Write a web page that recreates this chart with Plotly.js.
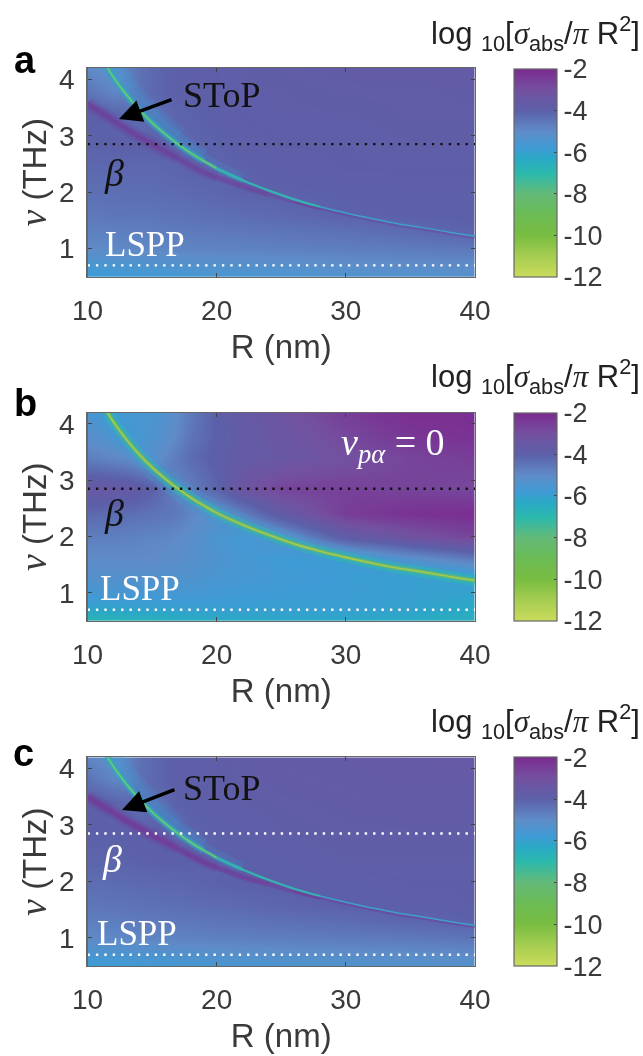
<!DOCTYPE html>
<html><head><meta charset="utf-8">
<script src="https://cdn.plot.ly/plotly-3.0.1.min.js"></script>
<style>html,body{margin:0;padding:0;background:#fff}#g{width:643px;height:1056px;filter:blur(0.45px)}</style>
</head><body><div id="g"></div>
<script>
const radii=[10,11,12,13,14,15,16,17,18,20,22,25,30,35,40];
const freqs=[0.5,0.7,1,1.3,1.6,2,2.4,2.85,3.4,3.8,4.2];
const zA=[
[-5.9,-5.9,-5.85,-5.8,-5.8,-5.75,-5.7,-5.7,-5.7,-5.6,-5.6,-5.5,-5.4,-5.4,-5.3],
[-5.6,-5.55,-5.5,-5.5,-5.45,-5.4,-5.4,-5.35,-5.3,-5.3,-5.25,-5.2,-5.1,-5.05,-5],
[-5,-5,-4.95,-4.95,-4.95,-4.9,-4.9,-4.85,-4.85,-4.8,-4.8,-4.75,-4.7,-4.65,-4.55],
[-4.75,-4.75,-4.75,-4.7,-4.7,-4.7,-4.65,-4.65,-4.6,-4.6,-4.55,-4.5,-4.4,-4.25,-4.1],
[-4.55,-4.55,-4.5,-4.5,-4.5,-4.5,-4.45,-4.45,-4.4,-4.35,-4.3,-4.2,-4.05,-4,-3.95],
[-4.35,-4.35,-4.35,-4.3,-4.3,-4.3,-4.25,-4.25,-4.2,-4.15,-4.05,-4.05,-4,-3.95,-3.95],
[-4.2,-4.2,-4.2,-4.2,-4.2,-4.2,-4.15,-4.1,-4.05,-4.1,-4.05,-3.95,-3.9,-3.9,-3.9],
[-4.05,-4.05,-4,-4,-4,-4,-4.05,-4.2,-4.15,-4.05,-3.95,-3.9,-3.9,-3.85,-3.85],
[-3.95,-4,-4.15,-4.25,-4.35,-4.35,-4.25,-4.1,-4.05,-3.95,-3.9,-3.85,-3.85,-3.8,-3.8],
[-4.5,-4.7,-4.9,-4.8,-4.4,-4.2,-4.05,-4,-3.95,-3.9,-3.85,-3.85,-3.8,-3.8,-3.75],
[-5,-5.1,-5.2,-4.8,-4.4,-4.2,-4.05,-4,-3.95,-3.9,-3.85,-3.8,-3.75,-3.7,-3.65]];
const zB=[
[-6.8,-6.8,-6.8,-6.75,-6.7,-6.65,-6.6,-6.55,-6.5,-6.4,-6.35,-6.3,-6.3,-6.4,-6.6],
[-6.2,-6.2,-6.15,-6.1,-6.1,-6.05,-6.05,-6,-6,-5.95,-5.95,-5.95,-5.95,-6.05,-6.35],
[-5.6,-5.6,-5.6,-5.6,-5.6,-5.6,-5.6,-5.6,-5.6,-5.7,-5.75,-5.8,-5.85,-5.95,-6.1],
[-5.2,-5.2,-5.2,-5.2,-5.2,-5.2,-5.25,-5.3,-5.35,-5.5,-5.6,-5.7,-5.85,-6,-6],
[-5,-5,-5,-5,-5,-5,-5.05,-5.1,-5.2,-5.4,-5.6,-5.8,-5.9,-5.2,-4.6],
[-4.7,-4.7,-4.7,-4.75,-4.8,-4.85,-4.9,-5,-5.1,-5.5,-5.7,-5.3,-3.8,-3.2,-2.7],
[-4.2,-4.25,-4.3,-4.35,-4.4,-4.45,-4.5,-4.6,-4.9,-5.2,-4.7,-3.7,-2.5,-2.2,-2.1],
[-3.5,-3.5,-3.55,-3.6,-3.75,-4,-4.4,-4.8,-4.7,-4.1,-3.3,-2.7,-2.6,-2.7,-2.8],
[-4.7,-4.8,-4.9,-5,-5.2,-5.2,-4.9,-4.6,-4.3,-3.9,-3.7,-3.5,-3.1,-2.7,-2.5],
[-5.2,-5.3,-5.5,-5.6,-5.6,-5.4,-5.2,-4.9,-4.5,-4,-3.7,-3.4,-2.8,-2.3,-2.2],
[-5.5,-5.7,-5.8,-5.7,-5.6,-5.5,-5.3,-5,-4.6,-4,-3.6,-3.3,-2.5,-2.1,-2.1]];
const zC=[
[-5.9,-5.85,-5.85,-5.8,-5.75,-5.75,-5.7,-5.7,-5.65,-5.6,-5.55,-5.5,-5.4,-5.35,-5.3],
[-5.55,-5.5,-5.5,-5.45,-5.4,-5.4,-5.35,-5.35,-5.3,-5.25,-5.2,-5.15,-5.1,-5.05,-5],
[-5,-4.95,-4.95,-4.9,-4.9,-4.85,-4.85,-4.8,-4.8,-4.75,-4.75,-4.7,-4.65,-4.6,-4.5],
[-4.7,-4.7,-4.7,-4.65,-4.65,-4.6,-4.6,-4.55,-4.55,-4.5,-4.45,-4.4,-4.3,-4.15,-4.05],
[-4.5,-4.5,-4.45,-4.45,-4.4,-4.4,-4.35,-4.35,-4.3,-4.25,-4.2,-4.1,-4,-3.95,-3.9],
[-4.3,-4.3,-4.25,-4.25,-4.2,-4.2,-4.15,-4.15,-4.1,-4.05,-4,-4,-3.95,-3.9,-3.9],
[-4.1,-4.1,-4.1,-4.05,-4.05,-4,-4,-4,-4,-4.05,-4,-3.95,-3.85,-3.85,-3.85],
[-4,-4,-4,-3.95,-3.95,-3.95,-4,-4.2,-4.1,-4,-3.95,-3.85,-3.8,-3.8,-3.8],
[-3.9,-3.95,-4.1,-4.2,-4.35,-4.3,-4.2,-4.05,-4,-3.9,-3.85,-3.8,-3.75,-3.7,-3.7],
[-4.4,-4.65,-4.85,-4.8,-4.4,-4.2,-4.05,-3.95,-3.9,-3.85,-3.8,-3.75,-3.7,-3.65,-3.65],
[-4.9,-5,-5.2,-4.8,-4.4,-4.2,-4.05,-3.95,-3.9,-3.85,-3.75,-3.7,-3.65,-3.6,-3.55]];
const stopR=[11.5,12,13,14,15,16,17,18,19,20,22,24,26,28,30,32,34,36,38,40];
const stopNu=[4.22,4.04,3.73,3.46,3.23,3.03,2.85,2.69,2.55,2.42,2.21,2.03,1.87,1.74,1.63,1.53,1.44,1.37,1.29,1.22];
const haloR=[12,13,14,15,16,17,18,19,20,22,24];
const haloNu=[4.25,3.9,3.62,3.38,3.17,2.97,2.8,2.64,2.5,2.27,2.06];
const betaR=[10,11,12,13,14,15,16,17,18,19,20,22,24,26,28,30,32,34,36,38,40];
const betaA=[3.57,3.42,3.27,3.12,2.98,2.85,2.72,2.6,2.47,2.35,2.26,2.1,1.96,1.83,1.71,1.6,1.5,1.41,1.34,1.26,1.19];
const betaC=[3.5,3.36,3.22,3.08,2.95,2.82,2.7,2.58,2.46,2.34,2.25,2.08,1.95,1.82,1.71,1.6,1.5,1.41,1.34,1.26,1.19];
const bandLevelBeta=[2.85,2.85];
const bandLevelLspp=[0.7,0.7];
const bandSpan=[10,40];
const xTicks=[10,20,30,40];
const yTicks=[1,2,3,4];
const barTicks=[-2,-4,-6,-8,-10,-12];
const barTickText=['-2','-4','-6','-8','-10','-12'];
const palette=[[0,'#cbdb5b'],[0.1,'#a5cd51'],[0.2,'#78bd41'],[0.3,'#6cbb55'],[0.4,'#63ba78'],[0.5,'#2bb9ad'],[0.57,'#2ba9c6'],[0.62,'#3f9bd5'],[0.7,'#5f8cc8'],[0.8,'#5c60a9'],[0.9,'#74509f'],[1,'#7b2b90']];

const W=643,H=1056,L=87.5,Rt=475,BL=513.5,BR=556;
const panels=[
 {t:68,b:276.7,bt:69,z:zA,kind:'a',dot:'#111',lab:'a',lx:25,ly:60},
 {t:412.7,b:621,bt:412.7,z:zB,kind:'b',dot:'#111',lab:'b',lx:25,ly:403},
 {t:757.3,b:966,bt:757.3,z:zC,kind:'c',dot:'#fff',lab:'c',lx:23,ly:753}];
const F="'Liberation Sans',Arial,sans-serif",S="'Liberation Serif',serif",ink='#3a3a3a';
const data=[],ann=[],layout={width:W,height:H,margin:{l:0,r:0,t:0,b:0,autoexpand:false},paper_bgcolor:'#fff',plot_bgcolor:'#fff',showlegend:false,font:{family:F,color:ink}};
function line(xa,ya,x,y,width,color,extra){data.push({type:'scatter',mode:'lines',x,y,xaxis:xa,yaxis:ya,hoverinfo:'skip',showlegend:false,line:Object.assign({width,color,shape:'spline'},extra||{})});}
function txt(x,y,text,size,color,family,fontExtra){ann.push({xref:'paper',yref:'paper',x:x/W,y:1-y/H,text,showarrow:false,xanchor:'center',yanchor:'middle',font:Object.assign({size,color,family},fontExtra||{})});}
panels.forEach((p,i)=>{
 const n=i===0?'':String(i+1),xa='x'+n,ya='y'+n;
 data.push({type:'heatmap',x:radii,y:freqs,z:p.z,xaxis:xa,yaxis:ya,zmin:-12,zmax:-2,zsmooth:'best',colorscale:palette,hoverinfo:'skip',
  colorbar:{x:BL/W,xanchor:'left',y:1-p.bt/H,yanchor:'top',len:p.b-p.bt,lenmode:'pixels',thickness:BR-BL,thicknessmode:'pixels',xpad:0,ypad:0,outlinecolor:'#666',outlinewidth:1.2,ticks:'inside',ticklen:3,tickcolor:'#444',tickmode:'array',tickvals:barTicks,ticktext:barTickText,tickfont:{size:27,family:F,color:ink},ticklabelstandoff:3}});
 layout['xaxis'+n]={domain:[L/W,Rt/W],range:[10,40],anchor:ya,tickmode:'array',tickvals:xTicks,ticks:'inside',ticklen:4,tickcolor:'#444',showline:true,mirror:'ticks',linecolor:'#666',linewidth:1.2,showgrid:false,zeroline:false,tickfont:{size:28,family:F,color:ink},ticklabelstandoff:8,automargin:true,
  title:{text:'R (nm)',standoff:10,font:{size:33,family:F,color:ink}}};
 layout['yaxis'+n]={domain:[1-p.b/H,1-p.t/H],range:[0.5,4.2],anchor:xa,tickmode:'array',tickvals:yTicks,ticks:'inside',ticklen:4,tickcolor:'#444',showline:true,mirror:'ticks',linecolor:'#666',linewidth:1.2,showgrid:false,zeroline:false,tickfont:{size:28,family:F,color:ink},ticklabelstandoff:6,automargin:true,
  title:{text:"<span style=\"font-family:'Liberation Serif';font-style:italic;font-size:38px\">ν</span> (THz)",standoff:2,font:{size:33,family:F,color:ink}}};
 if(p.kind==='b'){
  line(xa,ya,stopR,stopNu,22,'rgba(63,155,213,0.28)');
  line(xa,ya,stopR,stopNu,11,'rgba(43,185,173,0.5)');
  line(xa,ya,stopR,stopNu,4.5,'rgba(105,190,95,0.7)');
  line(xa,ya,stopR,stopNu,1.6,'#a9c94c');
 } else {
  const bn=p.kind==='a'?betaA:betaC, strong=p.kind==='a'?1:1.3;
  const purple=(a)=>'rgba(123,43,144,'+(a*strong)+')';
  line(xa,ya,betaR.slice(0,8),bn.slice(0,8),14,purple(0.1));
  line(xa,ya,betaR.slice(0,11),bn.slice(0,11),10,purple(0.12));
  line(xa,ya,betaR.slice(0,13),bn.slice(0,13),6.5,purple(0.16));
  line(xa,ya,betaR.slice(0,15),bn.slice(0,15),4,purple(0.28));
  line(xa,ya,betaR.slice(13),bn.slice(13),2.5,purple(0.28));
  line(xa,ya,haloR.slice(0,6),haloNu.slice(0,6),22,'rgba(63,155,213,0.16)');
  line(xa,ya,haloR.slice(0,8),haloNu.slice(0,8),13,'rgba(63,155,213,0.22)');
  line(xa,ya,haloR.slice(3,10),haloNu.slice(3,10),7,'rgba(63,155,213,0.18)');
  line(xa,ya,stopR.slice(0,9),stopNu.slice(0,9),7,'rgba(43,170,190,0.5)');
  line(xa,ya,stopR.slice(0,11),stopNu.slice(0,11),4.5,'rgba(43,170,190,0.55)');
  line(xa,ya,stopR.slice(0,10),stopNu.slice(0,10),2.2,'#63c27e');
  line(xa,ya,stopR.slice(9,14),stopNu.slice(9,14),2.2,'#35b3b0');
  line(xa,ya,stopR.slice(13),stopNu.slice(13),1.5,'#3f9fcc');
 }
 line(xa,ya,bandSpan,bandLevelBeta,2.4,p.dot,{shape:'linear',dash:'2.4px,6px'});
 line(xa,ya,bandSpan,bandLevelLspp,2.4,'#fff',{shape:'linear',dash:'2.4px,6px'});
 txt(p.lx,p.ly,p.lab,38,'#000',F,{weight:'bold'});
 ann.push({xref:'paper',yref:'paper',x:535/W,y:1-(p.bt-36)/H,xanchor:'center',yanchor:'middle',showarrow:false,
  text:"log <sub>10</sub>[<i style=\"font-family:'Liberation Serif'\">σ</i><sub>abs</sub>/<i style=\"font-family:'Liberation Serif'\">π</i> R<sup>2</sup>]",font:{size:31,family:F,color:'#222'}});
});
const it={style:'italic'};
txt(222,95,'SToP',36,'#111',S);
txt(144.5,244,'LSPP',35,'#fff',S);
txt(114,173,'β',38,'#111',S,it);
txt(393,445,'<i>ν<sub>pα</sub></i> = 0',38,'#fff',S);
txt(140,588,'LSPP',35,'#fff',S);
txt(114,513,'β',38,'#111',S,it);
txt(222,788,'SToP',36,'#111',S);
txt(137,933,'LSPP',35,'#fff',S);
txt(112,859,'β',38,'#fff',S,it);
[[119,119,173,99],[122,810,176,789]].forEach(a=>ann.push({xref:'paper',yref:'paper',axref:'pixel',ayref:'pixel',x:a[0]/W,y:1-a[1]/H,ax:a[2]-a[0],ay:a[3]-a[1],text:'',showarrow:true,arrowhead:2,arrowsize:1.3,arrowwidth:3.5,arrowcolor:'#000'}));
layout.annotations=ann;
Plotly.newPlot('g',data,layout,{displayModeBar:false,staticPlot:true});
</script></body></html>
